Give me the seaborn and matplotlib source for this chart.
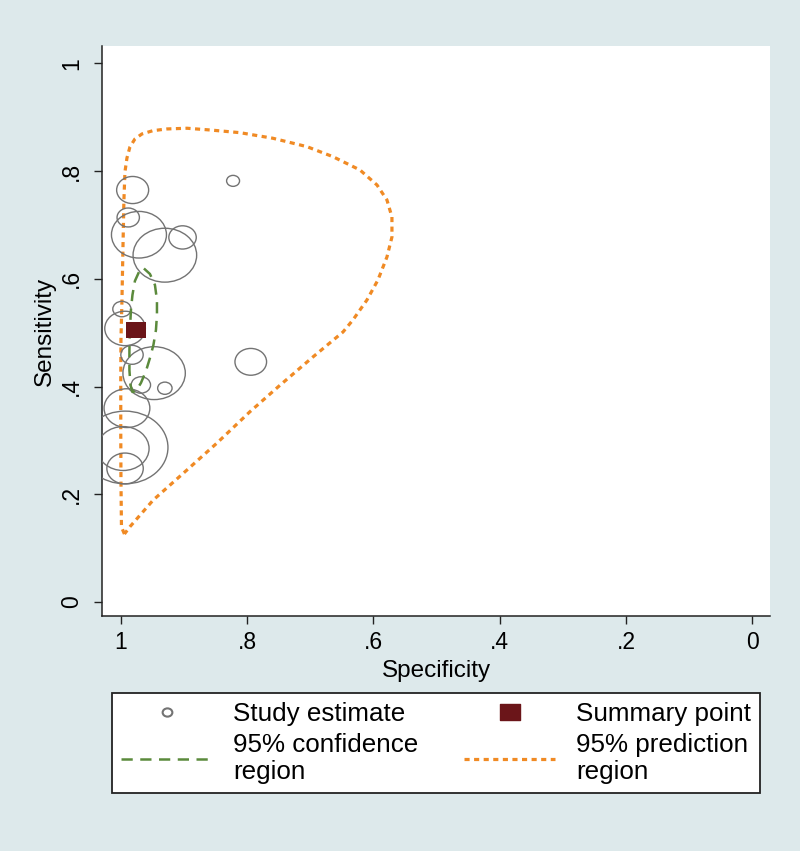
import numpy as np
import pandas as pd
import matplotlib
matplotlib.use("Agg")
import matplotlib.pyplot as plt
from matplotlib.path import Path
from matplotlib.lines import Line2D
import seaborn as sns

# study estimates
study_spec = [0.981, 0.822, 0.988, 0.971, 0.902, 0.930, 0.998, 0.993, 0.982,
              0.947, 0.794, 0.968, 0.930, 0.990, 0.993, 0.996, 0.993]
study_sens = [0.765, 0.782, 0.714, 0.682, 0.677, 0.644, 0.544, 0.508, 0.459,
              0.425, 0.446, 0.403, 0.397, 0.360, 0.287, 0.285, 0.248]
study_weight = [256, 42, 125, 756, 188, 1011, 83, 412, 125,
                973, 250, 94, 52, 524, 1840, 671, 331]

summary_spec = [0.975]
summary_sens = [0.505]

# 95% confidence region outline
conf_spec = [0.9631, 0.9536, 0.9457, 0.9425, 0.9425, 0.9441, 0.9481, 0.9536, 0.9599,
             0.9679, 0.9758, 0.9813, 0.9845, 0.9861, 0.9861, 0.9853, 0.9837, 0.9813,
             0.9774, 0.9710, 0.9631]
conf_sens = [0.6193, 0.6091, 0.5887, 0.5608, 0.5330, 0.5051, 0.4773, 0.4531, 0.4290,
             0.4067, 0.3918, 0.3900, 0.4030, 0.4308, 0.4680, 0.5051, 0.5422, 0.5701,
             0.5961, 0.6128, 0.6193]

# 95% prediction region outline
pred_spec = [0.9940, 0.9987, 0.9995, 0.9998, 0.9998, 0.9995, 0.9979, 0.9964, 0.9948,
             0.9932, 0.9900, 0.9853, 0.9774, 0.9663, 0.9489, 0.9267, 0.8950, 0.8586,
             0.8111, 0.7589, 0.7050, 0.6639, 0.6211, 0.5942, 0.5784, 0.5705, 0.5705,
             0.5784, 0.5927, 0.6101, 0.6323, 0.6480, 0.6951, 0.7478, 0.7953, 0.8480,
             0.9009, 0.9484, 0.9853, 0.9940]
pred_sens = [0.1263, 0.1393, 0.2266, 0.3194, 0.4123, 0.4865, 0.5608, 0.6537, 0.7465,
             0.7985, 0.8245, 0.8449, 0.8598, 0.8691, 0.8752, 0.8784, 0.8797, 0.8765,
             0.8715, 0.8611, 0.8455, 0.8269, 0.8022, 0.7744, 0.7465, 0.7149, 0.6778,
             0.6407, 0.5979, 0.5608, 0.5237, 0.5014, 0.4555, 0.4025, 0.3534, 0.2947,
             0.2390, 0.1894, 0.1398, 0.1263]

tick_vals = [0, 0.2, 0.4, 0.6, 0.8, 1]
tick_labels = ["0", ".2", ".4", ".6", ".8", "1"]

bg = "#dde9eb"
circ_col = "#737373"
sq_col = "#6b1519"
green = "#5b8a3c"
orange = "#f08a24"

sns.set_style("ticks")
plt.rcParams["font.family"] = ["Liberation Sans", "DejaVu Sans"]
plt.rcParams["text.color"] = "black"
plt.rcParams["axes.labelcolor"] = "black"

# the source image is stretched sideways, so markers are slightly wide
ell = Path.unit_circle()
ell_marker = Path(ell.vertices * np.array([1.18, 1.0]), ell.codes)
sq_marker = Path(np.array([[-1.18, -1], [1.18, -1], [1.18, 1], [-1.18, 1], [-1.18, -1]]),
                 [Path.MOVETO, Path.LINETO, Path.LINETO, Path.LINETO, Path.CLOSEPOLY])

fig = plt.figure(figsize=(8, 8.51), dpi=100, facecolor=bg)
ax = fig.add_axes([0.1279, 0.2761, 0.8346, 0.6699])
ax.set_facecolor("white")

studies = pd.DataFrame({"spec": study_spec, "sens": study_sens, "w": study_weight})
studies["s"] = studies["w"] * 1.44 ** 2

pred = pd.DataFrame({"spec": pred_spec, "sens": pred_sens})
conf = pd.DataFrame({"spec": conf_spec, "sens": conf_sens})

sns.lineplot(data=pred, x="spec", y="sens", sort=False, estimator=None, ax=ax,
             color=orange, lw=2.3, linestyle=(0, (1.6, 1.4)), zorder=2)
sns.scatterplot(data=studies, x="spec", y="sens", s=studies["s"].values, ax=ax,
                marker=ell_marker, facecolor="none", edgecolor=circ_col,
                linewidth=1.0, zorder=3)
sns.lineplot(data=conf, x="spec", y="sens", sort=False, estimator=None, ax=ax,
             color=green, lw=1.8, linestyle=(0, (4.5, 3)), zorder=4)
sns.scatterplot(x=summary_spec, y=summary_sens, ax=ax, marker=sq_marker, s=14.4 ** 2,
                color=sq_col, edgecolor=sq_col, linewidth=0, zorder=5)

ax.set_xlim(1.029, -0.028)
ax.set_ylim(-0.026, 1.0325)
ax.set_xticks(tick_vals)
ax.set_xticklabels(tick_labels)
ax.set_yticks(tick_vals)
ax.set_yticklabels(tick_labels, rotation=90, va="center")
ax.tick_params(axis="both", length=6, width=1.0, color="#222222", labelsize=16.5,
               labelcolor="black")
ax.tick_params(axis="x", pad=5)
ax.tick_params(axis="y", pad=8)
for side in ["top", "right"]:
    ax.spines[side].set_visible(False)
for side in ["left", "bottom"]:
    ax.spines[side].set_color("#222222")
    ax.spines[side].set_linewidth(1.1)

ax.set_xlabel("Specificity", fontsize=17.5, labelpad=4)
ax.set_ylabel("Sensitivity", fontsize=17.5, labelpad=3)

handles = [
    Line2D([], [], ls="none", marker=ell_marker, ms=7, mfc="none", mec=circ_col, mew=1.5),
    Line2D([], [], color=green, lw=1.8, linestyle=(0, (4.5, 3))),
    Line2D([], [], ls="none", marker=sq_marker, ms=14, mfc=sq_col, mec=sq_col),
    Line2D([], [], color=orange, lw=2.3, linestyle=(0, (1.6, 1.4))),
]
labels = ["Study estimate", "95% confidence\nregion", "Summary point", "95% prediction\nregion"]
leg = fig.legend(handles, labels, ncol=2, loc="upper left",
                 bbox_to_anchor=(0.14, 1 - 693 / 851, 0.81, 0.0), mode="expand",
                 frameon=True, fancybox=False, fontsize=18.7, handlelength=3.5,
                 handletextpad=0.8, borderaxespad=0, labelspacing=0.25, borderpad=0.35)
leg.get_frame().set_edgecolor("#222222")
leg.get_frame().set_linewidth(1.3)
leg.get_frame().set_facecolor("white")
leg.get_frame().set_alpha(1)

fig.savefig("out.png", dpi=100, facecolor=bg)
